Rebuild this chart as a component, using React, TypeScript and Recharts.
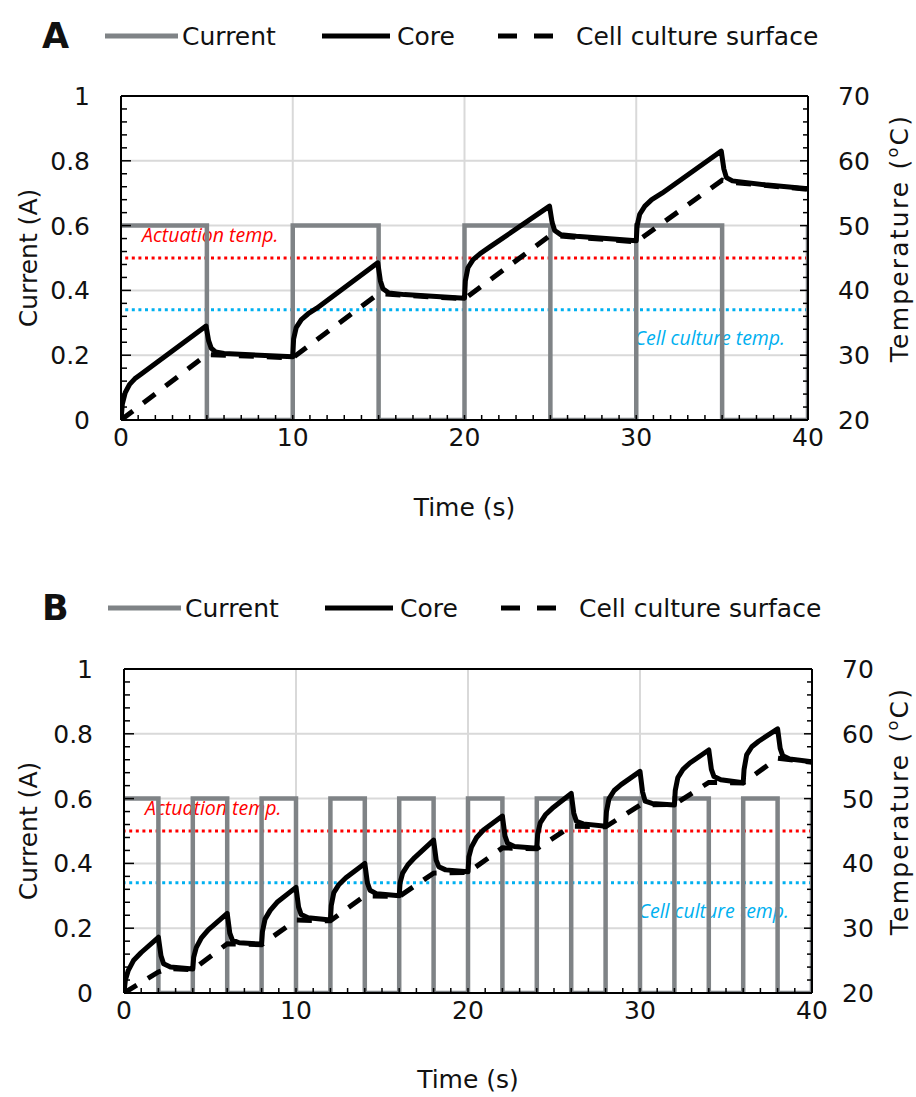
import { LineChart, Line, XAxis, YAxis, ReferenceLine } from 'recharts'

// ---- panel A: 5 s on / 5 s off ----
const currentTimeA = [0, 5, 5, 10, 10, 15, 15, 20, 20, 25, 25, 30, 30, 35, 35, 40, 40]
const currentAmpA = [0.6, 0.6, 0, 0, 0.6, 0.6, 0, 0, 0.6, 0.6, 0, 0, 0.6, 0.6, 0, 0, 0.6]

const coreTimeA = [0, 0.08, 0.25, 0.5, 0.8, 1.2, 4.95, 5.1, 5.25, 5.5, 6, 10, 10.05, 10.2, 10.5, 10.9, 11.4,
  14.95, 15.1, 15.25, 15.6, 16.5, 20, 20.05, 20.2, 20.5, 20.9, 21.5, 24.95, 25.1, 25.25, 25.6, 26.5,
  30, 30.05, 30.2, 30.5, 30.9, 31.5, 34.95, 35.1, 35.25, 35.6, 37.5, 40]
const coreTempA = [20, 22.5, 24.25, 25.5, 26.35, 27.15, 34.5, 32.25, 31.1, 30.5, 30.25, 29.75, 32.5, 34.25, 35.5, 36.4, 37.25,
  44.25, 41.5, 40.25, 39.6, 39.35, 38.8, 41.5, 43.5, 44.75, 45.65, 46.75, 53, 50.5, 49.25, 48.6, 48.35,
  47.65, 50, 51.75, 53, 54, 55, 61.5, 58.75, 57.4, 56.9, 56.3, 55.7]

const surfaceTimeA = [0, 5, 10, 15, 20, 25, 30, 35, 35.5, 40]
const surfaceTempA = [20, 30.1, 29.6, 39.5, 38.7, 48.5, 47.5, 57, 56.7, 55.6]

// ---- panel B: 2 s on / 2 s off ----
const currentTimeB = [0, 2, 2, 4, 4, 6, 6, 8, 8, 10, 10, 12, 12, 14, 14, 16, 16, 18, 18, 20, 20,
  22, 22, 24, 24, 26, 26, 28, 28, 30, 30, 32, 32, 34, 34, 36, 36, 38, 38, 40, 40]
const currentAmpB = [0.6, 0.6, 0, 0, 0.6, 0.6, 0, 0, 0.6, 0.6, 0, 0, 0.6, 0.6, 0, 0, 0.6, 0.6, 0, 0, 0.6,
  0.6, 0, 0, 0.6, 0.6, 0, 0, 0.6, 0.6, 0, 0, 0.6, 0.6, 0, 0, 0.6, 0.6, 0, 0, 0.6]

const coreTimeB = [0, 0.08, 0.25, 0.55, 1, 2, 2.15, 2.3, 2.7,
  4, 4.05, 4.2, 4.5, 4.9, 6, 6.15, 6.3, 6.7,
  8, 8.05, 8.2, 8.5, 8.9, 10, 10.15, 10.3, 10.7,
  12, 12.05, 12.2, 12.5, 12.9, 14, 14.15, 14.3, 14.7,
  16, 16.05, 16.2, 16.5, 16.9, 18, 18.15, 18.3, 18.7,
  20, 20.05, 20.2, 20.5, 20.9, 22, 22.15, 22.3, 22.7,
  24, 24.05, 24.2, 24.5, 24.9, 26, 26.15, 26.3, 26.7,
  28, 28.05, 28.2, 28.5, 28.9, 30, 30.15, 30.3, 30.7,
  32, 32.05, 32.2, 32.5, 32.9, 34, 34.15, 34.3, 34.7,
  36, 36.05, 36.2, 36.5, 36.9, 38, 38.15, 38.3, 38.7,
  40]
const coreTempB = [20, 22, 23.5, 25, 26.25, 28.6, 25.75, 24.5, 24,
  23.7, 25.5, 27, 28.5, 29.75, 32.3, 29.25, 28.15, 27.75,
  27.55, 29.5, 31.4, 32.75, 34, 36.3, 33.25, 32.1, 31.6,
  31.25, 33.5, 35.5, 36.75, 37.8, 40, 37, 35.85, 35.3,
  35, 37, 38.5, 39.75, 40.9, 43.6, 40.5, 39.5, 39,
  38.7, 41, 42.5, 44, 45.15, 47.3, 44.25, 43.1, 42.6,
  42.35, 44.5, 46.25, 47.5, 48.5, 50.8, 47.75, 46.5, 46.1,
  45.75, 48, 50, 51.25, 52.15, 54.2, 51, 49.6, 49.25,
  49, 51.25, 53.25, 54.5, 55.5, 57.5, 54.5, 53.4, 52.9,
  52.45, 54.5, 56.75, 58, 58.85, 60.75, 57.75, 56.6, 56.1,
  55.7]

const surfaceTimeB = [0, 2, 2.6, 4, 6, 8, 10, 12, 14, 16, 18, 20, 22, 24, 26, 28, 30, 32, 34, 36, 38, 40]
const surfaceTempB = [20, 23.25, 23.8, 23.6, 27.6, 27.45, 31.25, 31.15, 35, 34.9, 38.5, 38.6, 42.4, 42.25,
  45.75, 45.65, 49, 49.1, 52.5, 52.4, 56.25, 55.6]

// reference temperatures
const actuationTemp = 45
const cellCultureTemp = 37

// axes
const timeTicks = [0, 10, 20, 30, 40]
const currentTicks = [0, 0.2, 0.4, 0.6, 0.8, 1]
const tempTicks = [20, 30, 40, 50, 60, 70]
const timeMinor = Array.from({ length: 41 }, (_, i) => i)
const currentMinor = Array.from({ length: 26 }, (_, i) => Math.round(i * 4) / 100)
const tempMinor = Array.from({ length: 26 }, (_, i) => 20 + i * 2)

const FONT = '"DejaVu Sans", sans-serif'
const W = 916
const H = 530
const GRAY = '#7f8386'

const zip = (ts: number[], vs: number[]) => ts.map((t, i) => ({ t, v: vs[i] }))

const TimeTick = (p: any) => {
  const v = p.payload.value
  return (
    <g>
      <line x1={p.x} x2={p.x} y1={p.y} y2={p.y - 5} stroke="#000" strokeWidth={1.5} />
      {timeTicks.includes(v) && (
        <text x={p.x} y={p.y + 26} textAnchor="middle" fontFamily={FONT} fontSize={25} fill="#111">{v}</text>
      )}
    </g>
  )
}

const CurrentTick = (p: any) => {
  const v = p.payload.value
  const major = currentTicks.some((m) => Math.abs(m - v) < 1e-6)
  return (
    <g>
      <line x1={p.x} x2={p.x + (major ? 10 : 6)} y1={p.y} y2={p.y} stroke="#000" strokeWidth={1.5} />
      {major && (
        <text x={p.x - 31} y={p.y + 9} textAnchor="end" fontFamily={FONT} fontSize={25} fill="#111">{String(+v.toFixed(1))}</text>
      )}
    </g>
  )
}

const TempTick = (p: any) => {
  const v = p.payload.value
  const major = tempTicks.includes(v)
  return (
    <g>
      <line x1={p.x} x2={p.x - (major ? 8 : 5)} y1={p.y} y2={p.y} stroke="#000" strokeWidth={1.5} />
      {major && (
        <text x={p.x + 30} y={p.y + 9} fontFamily={FONT} fontSize={25} fill="#111">{v}</text>
      )}
    </g>
  )
}

const Annotation = (p: any) => {
  const { x, y, width } = p.viewBox
  const left = p.side === 'left'
  return (
    <text x={left ? x + 21 : x + width - 23} y={y + p.dy} textAnchor={left ? 'start' : 'end'}
      fontFamily='"Open Sans", sans-serif' fontStyle="italic" fontSize={19.5} fill={p.color}>
      {p.text}
    </text>
  )
}

type Plot = { left: number; right: number; top: number; bottom: number }

function Panel({ letter, top, plot, shift, current, core, surface }: {
  letter: string; top: number; plot: Plot; shift: number
  current: { t: number; v: number }[]; core: { t: number; v: number }[]; surface: { t: number; v: number }[]
}) {
  const midY = (plot.top + plot.bottom) / 2
  // axes need a non-zero size to be drawn, so each one takes 1px of the margin
  return (
    <div style={{ position: 'absolute', left: 0, top, width: W, height: H }}>
      <LineChart width={W} height={H}
        margin={{ top: plot.top, left: plot.left - 1, right: W - plot.right - 1, bottom: H - plot.bottom - 1 }}>
        <XAxis xAxisId="t" dataKey="t" type="number" domain={[0, 40]} ticks={timeMinor} interval={0}
          height={1} tickSize={0} tickMargin={0} tickLine={false} tick={(p: any) => <TimeTick {...p} />}
          axisLine={{ stroke: '#000', strokeWidth: 2 }} allowDataOverflow />
        <YAxis yAxisId="amp" orientation="left" type="number" domain={[0, 1]} ticks={currentMinor} interval={0}
          width={1} tickSize={0} tickMargin={0} tickLine={false} tick={(p: any) => <CurrentTick {...p} />}
          axisLine={{ stroke: '#000', strokeWidth: 2 }} allowDataOverflow />
        <YAxis yAxisId="temp" orientation="right" type="number" domain={[20, 70]} ticks={tempMinor} interval={0}
          width={1} tickSize={0} tickMargin={0} tickLine={false} tick={(p: any) => <TempTick {...p} />}
          axisLine={{ stroke: '#000', strokeWidth: 2 }} allowDataOverflow />

        {timeTicks.slice(1, -1).map((t) => (
          <ReferenceLine key={'gx' + t} xAxisId="t" yAxisId="amp" x={t} stroke="#d9d9d9" strokeWidth={2} />
        ))}
        {currentTicks.slice(1, -1).map((c) => (
          <ReferenceLine key={'gy' + c} xAxisId="t" yAxisId="amp" y={c} stroke="#d9d9d9" strokeWidth={2} />
        ))}
        <ReferenceLine xAxisId="t" yAxisId="amp" y={1} stroke="#000" strokeWidth={2} />

        <ReferenceLine xAxisId="t" yAxisId="temp" y={actuationTemp} stroke="#ff0000" strokeWidth={3}
          strokeDasharray="3 3.6"
          label={(p: any) => <Annotation {...p} side="left" dy={-16} color="#ff0000" text="Actuation temp." />} />
        <ReferenceLine xAxisId="t" yAxisId="temp" y={cellCultureTemp} stroke="#00b0f0" strokeWidth={3}
          strokeDasharray="3 3.6"
          label={(p: any) => <Annotation {...p} side="right" dy={35} color="#00b0f0" text="Cell culture temp." />} />

        <Line data={current} xAxisId="t" yAxisId="amp" dataKey="v" type="linear" stroke={GRAY} strokeWidth={4.5}
          dot={false} activeDot={false} isAnimationActive={false} />
        <Line data={surface} xAxisId="t" yAxisId="temp" dataKey="v" type="linear" stroke="#000" strokeWidth={5}
          strokeDasharray="15 13" dot={false} activeDot={false} isAnimationActive={false} />
        <Line data={core} xAxisId="t" yAxisId="temp" dataKey="v" type="linear" stroke="#000" strokeWidth={5}
          strokeLinejoin="round" dot={false} activeDot={false} isAnimationActive={false} />
      </LineChart>

      <svg width={W} height={H} style={{ position: 'absolute', left: 0, top: 0, pointerEvents: 'none' }}
        fontFamily={FONT} fill="#111">
        <text x={42} y={48} fontSize={35} fontWeight="bold">{letter}</text>
        <line x1={105 + shift} x2={178 + shift} y1={36} y2={36} stroke={GRAY} strokeWidth={5} />
        <text x={182 + shift} y={45} fontSize={25}>Current</text>
        <line x1={322 + shift} x2={390 + shift} y1={36} y2={36} stroke="#000" strokeWidth={5} />
        <text x={397 + shift} y={45} fontSize={25}>Core</text>
        <line x1={498 + shift} x2={553 + shift} y1={36} y2={36} stroke="#000" strokeWidth={5} strokeDasharray="19 17" />
        <text x={576 + shift} y={45} fontSize={25}>Cell culture surface</text>

        <text transform="rotate(-90)" x={-midY} y={37} textAnchor="middle" fontSize={25}>Current (A)</text>
        <text transform="rotate(-90)" x={-(midY - 20)} y={908} textAnchor="middle" fontSize={25} letterSpacing={2.2}>
          Temperature (<tspan fontSize={16} dy={-10}>o</tspan><tspan dy={10}>C)</tspan>
        </text>
        <text x={(plot.left + plot.right) / 2} y={516} textAnchor="middle" fontSize={25}>Time (s)</text>
      </svg>
    </div>
  )
}

export default function App() {
  return (
    <div style={{ position: 'absolute', left: 0, top: 0, width: W, height: 1097, background: '#fff' }}>
      <Panel letter="A" top={0} shift={0} plot={{ left: 121, right: 808, top: 96, bottom: 420 }}
        current={zip(currentTimeA, currentAmpA)} core={zip(coreTimeA, coreTempA)} surface={zip(surfaceTimeA, surfaceTempA)} />
      <Panel letter="B" top={572} shift={3} plot={{ left: 124, right: 812, top: 97, bottom: 421 }}
        current={zip(currentTimeB, currentAmpB)} core={zip(coreTimeB, coreTempB)} surface={zip(surfaceTimeB, surfaceTempB)} />
    </div>
  )
}
